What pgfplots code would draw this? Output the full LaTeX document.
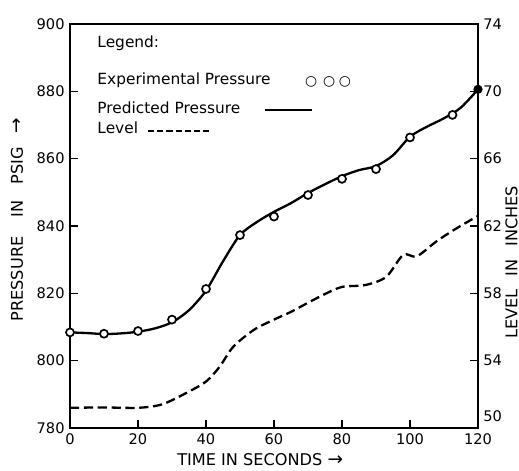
\documentclass[border=0pt]{standalone}
\usepackage{pgfplots}
\pgfplotsset{compat=1.18}
\usepackage{fontspec}
\setmainfont{DejaVu Sans}

\pgfplotsset{
  base/.style={
    scale only axis, width=265.2pt, height=262.6pt,
    xmin=0, xmax=120,
    tick align=inside, major tick length=5pt,
    every tick/.style={black, line width=1pt},
    axis line style={line width=1.2pt},
    tick label style={font=\fontsize{9.5}{10}\selectfont},
    label style={font=\fontsize{10.5}{11}\selectfont},
    /pgf/number format/assume math mode=true,
    clip=false,
  }
}

\begin{document}
\begin{tikzpicture}
\useasboundingbox (-45.5pt,-27.3pt) rectangle (291.85pt,278.2pt);

% pressure axis
\begin{axis}[base,
    ymin=780, ymax=900,
    xtick={0,20,...,120}, ytick={780,800,...,900},
    tick pos=left,
    xlabel={TIME IN SECONDS {\large →}},
    ylabel={PRESSURE\hspace{1.2em}IN\hspace{1em}PSIG\hspace{0.8em}{\large →}},
    xlabel style={at={(rel axis cs:0.466,-0.079)}, anchor=center},
    ylabel style={at={(rel axis cs:-0.13,0.515)}, anchor=center},
]
    % predicted pressure
    \addplot[black, line width=1.5pt, smooth, mark=*, mark indices={25}, mark size=2.2pt] coordinates {
        (0,808.4) (5,808.2) (10,807.9) (15,808.1) (20,808.6) (25,809.6)
        (30,811.4) (35,815) (40,820.8) (45,829.5) (50,837.3) (55,841.2)
        (60,844.2) (65,846.8) (70,849.8) (75,852.4) (80,854.8) (85,856.6)
        (90,857.8) (95,861) (100,866.5) (105,869.5) (110,872) (115,875.2)
        (120,880.6)
    };
    % experimental pressure
    \addplot[only marks, mark=*, mark size=2.6pt,
        mark options={fill=white, draw=black, line width=1.1pt}] coordinates {
        (0,808.4) (10,808.0) (20,808.8) (30,812.2) (40,821.3) (50,837.3)
        (60,842.8) (70,849.2) (80,854.0) (90,856.9) (100,866.3) (112.5,873.0)
    };

    % legend block written inside the frame
    \node[anchor=west, font=\fontsize{10}{12}\selectfont] at (rel axis cs:0.054,0.953) {Legend:};
    \node[anchor=west, font=\fontsize{10}{12}\selectfont] at (rel axis cs:0.054,0.861) {Experimental Pressure};
    \node[anchor=west, font=\fontsize{10}{12}\selectfont] at (rel axis cs:0.054,0.792) {Predicted Pressure};
    \node[anchor=west, font=\fontsize{10}{12}\selectfont] at (rel axis cs:0.054,0.743) {Level};
    \node[font=\bfseries\fontsize{9}{9}\selectfont] at (rel axis cs:0.591,0.856) {○};
    \node[font=\bfseries\fontsize{9}{9}\selectfont] at (rel axis cs:0.635,0.856) {○};
    \node[font=\bfseries\fontsize{9}{9}\selectfont] at (rel axis cs:0.674,0.856) {○};
    \draw[line width=1.3pt] (rel axis cs:0.478,0.787) -- (rel axis cs:0.593,0.787);
    \draw[line width=1.3pt, dash pattern=on 4pt off 2pt] (rel axis cs:0.191,0.735) -- (rel axis cs:0.343,0.735);
\end{axis}

% level axis
\begin{axis}[base,
    ymin=50, ymax=74,
    ytick={54,58,...,74},
    extra y ticks={50},
    extra y tick style={yticklabel style={yshift=8pt}},
    axis y line*=right, axis x line=none,
    ylabel={LEVEL\hspace{0.8em}IN\hspace{0.8em}INCHES},
    ylabel style={at={(rel axis cs:1.082,0.41)}, anchor=center},
]
    \addplot[black, line width=1.5pt, smooth, dash pattern=on 6pt off 3pt] coordinates {
        (0,51.2) (10,51.22) (20,51.2) (27,51.4) (34,52.06) (40,52.76)
        (44,53.64) (48,54.82) (54,55.82) (60,56.44) (65,56.9) (70,57.44)
        (75,57.96) (80,58.38) (87,58.5) (93,58.98) (98,60.28) (102,60.2)
        (108,61.12) (114,61.9) (120,62.6)
    };
\end{axis}
\end{tikzpicture}
\end{document}
